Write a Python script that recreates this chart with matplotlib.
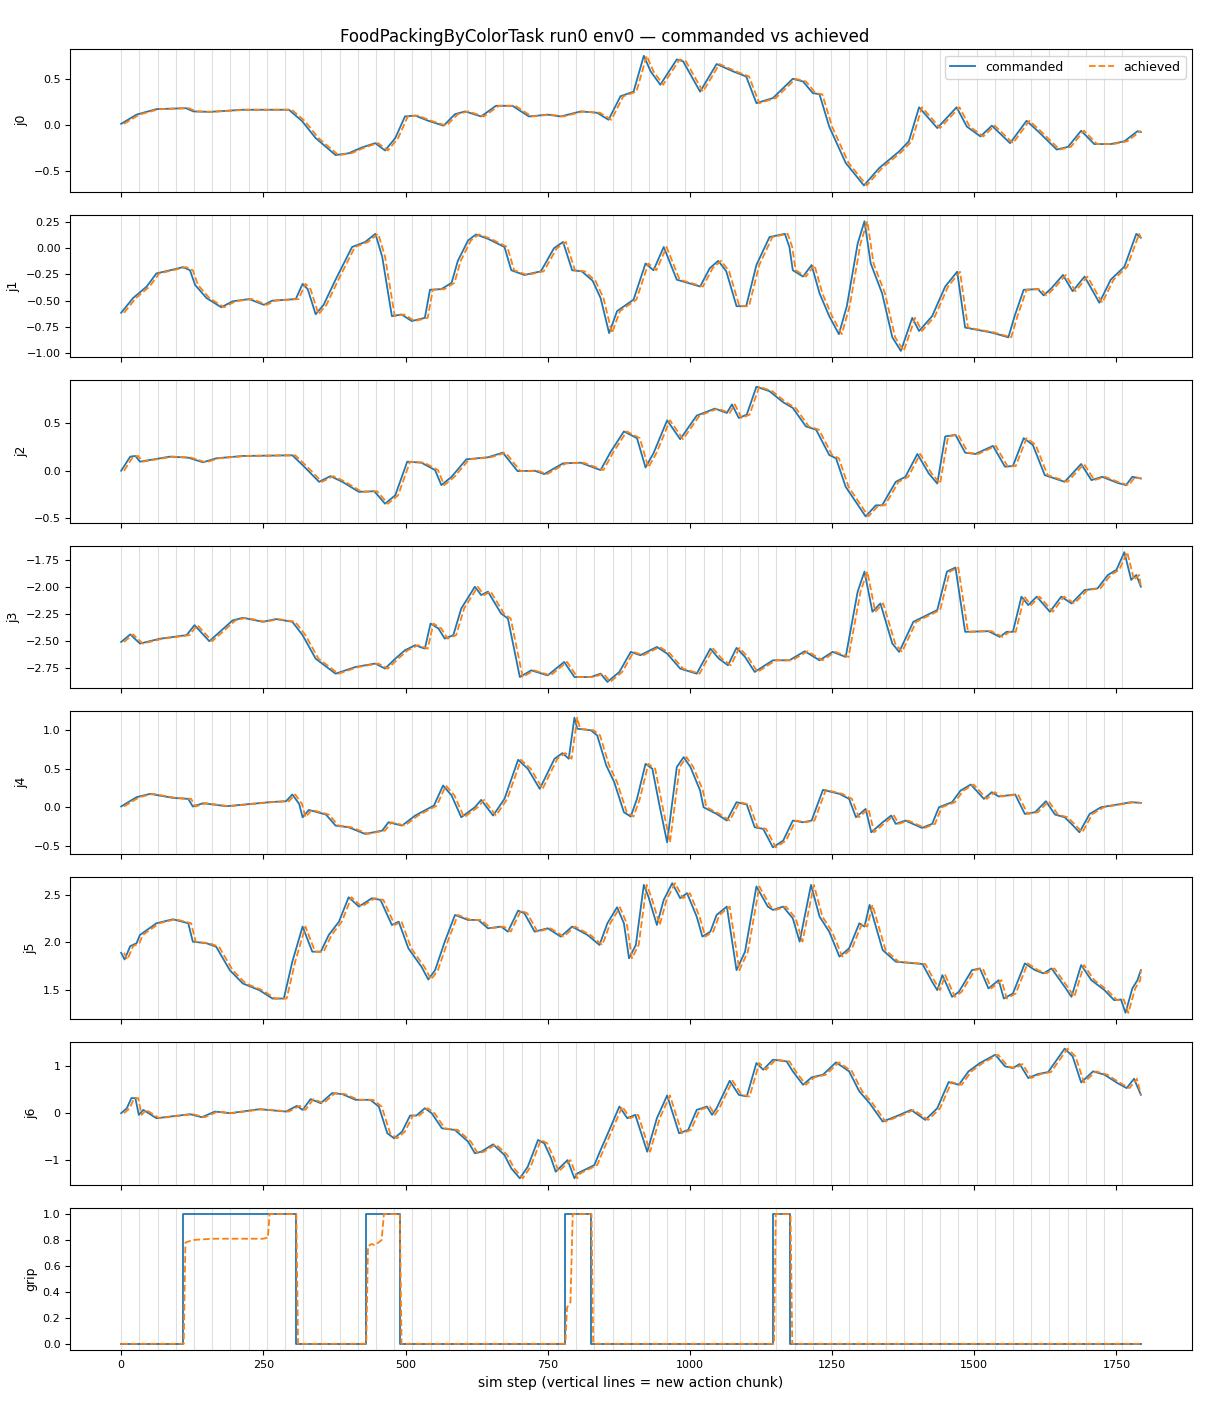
import numpy as np
import matplotlib
matplotlib.use("Agg")
import matplotlib.pyplot as plt
from matplotlib.ticker import MultipleLocator

# Werte: (sim step, Wert) fuer den kommandierten Verlauf
j0 = [(0, 0.01), (27, 0.11), (62, 0.17), (114, 0.18), (127, 0.145), (155, 0.14), (214, 0.163),
      (295, 0.163), (318, 0.04), (342, -0.145), (377, -0.33), (400, -0.31), (424, -0.245),
      (447, -0.2), (464, -0.28), (482, -0.145), (499, 0.09), (517, 0.10), (540, 0.043),
      (567, -0.01), (587, 0.115), (605, 0.145), (633, 0.09), (659, 0.206), (688, 0.206),
      (717, 0.09), (750, 0.11), (773, 0.09), (808, 0.145), (837, 0.13), (857, 0.054),
      (878, 0.31), (901, 0.36), (919, 0.75), (931, 0.58), (948, 0.435), (977, 0.71),
      (988, 0.69), (1018, 0.36), (1047, 0.66), (1076, 0.58), (1099, 0.525), (1117, 0.235),
      (1146, 0.29), (1181, 0.50), (1199, 0.47), (1216, 0.345), (1228, 0.33), (1245, -0.02),
      (1274, -0.415), (1306, -0.66), (1333, -0.47), (1368, -0.29), (1385, -0.18),
      (1403, 0.19), (1435, -0.036), (1469, 0.19), (1487, -0.02), (1511, -0.127),
      (1531, -0.01), (1563, -0.2), (1592, 0.043), (1612, -0.07), (1645, -0.27),
      (1665, -0.24), (1688, -0.065), (1711, -0.21), (1740, -0.21), (1764, -0.18),
      (1787, -0.07), (1793, -0.08)]

j1 = [(0, -0.616), (21, -0.475), (45, -0.365), (62, -0.24), (86, -0.21), (109, -0.18),
      (121, -0.21), (130, -0.35), (150, -0.475), (176, -0.563), (196, -0.506), (225, -0.485),
      (251, -0.54), (266, -0.5), (307, -0.485), (319, -0.34), (328, -0.39), (342, -0.63),
      (356, -0.54), (377, -0.30), (406, 0.012), (429, 0.06), (447, 0.138), (459, -0.08),
      (476, -0.648), (493, -0.632), (511, -0.695), (534, -0.664), (543, -0.396), (563, -0.39),
      (581, -0.33), (592, -0.12), (610, 0.075), (624, 0.132), (645, 0.09), (674, 0.012),
      (686, -0.21), (709, -0.255), (738, -0.22), (761, 0.0), (777, 0.06), (793, -0.21),
      (810, -0.22), (829, -0.31), (843, -0.475), (858, -0.81), (872, -0.60), (901, -0.49),
      (922, -0.145), (936, -0.21), (954, 0.012), (977, -0.30), (1018, -0.365), (1035, -0.19),
      (1050, -0.12), (1064, -0.22), (1082, -0.553), (1099, -0.553), (1117, -0.16),
      (1140, 0.107), (1167, 0.138), (1175, 0.012), (1181, -0.21), (1199, -0.27),
      (1214, -0.16), (1228, -0.43), (1245, -0.648), (1262, -0.82), (1276, -0.553),
      (1295, 0.044), (1307, 0.258), (1318, -0.145), (1338, -0.43), (1356, -0.85),
      (1371, -0.98), (1391, -0.664), (1403, -0.79), (1426, -0.648), (1449, -0.365),
      (1470, -0.224), (1484, -0.757), (1531, -0.805), (1560, -0.85), (1571, -0.648),
      (1587, -0.396), (1612, -0.39), (1622, -0.45), (1636, -0.38), (1656, -0.255),
      (1673, -0.41), (1694, -0.27), (1720, -0.52), (1740, -0.30), (1764, -0.176),
      (1785, 0.138), (1793, 0.10)]

j2 = [(0, 0.0), (16, 0.149), (25, 0.156), (33, 0.096), (86, 0.149), (118, 0.138),
      (144, 0.089), (167, 0.131), (214, 0.156), (301, 0.163), (319, 0.06), (348, -0.117),
      (368, -0.057), (389, -0.117), (418, -0.223), (445, -0.216), (464, -0.348),
      (482, -0.259), (503, 0.096), (528, 0.085), (552, 0.007), (563, -0.152), (581, -0.064),
      (607, 0.121), (645, 0.142), (671, 0.191), (697, -0.004), (727, 0.0), (744, -0.035),
      (777, 0.078), (808, 0.085), (843, 0.007), (861, 0.202), (884, 0.415), (907, 0.344),
      (922, 0.035), (936, 0.184), (960, 0.532), (983, 0.333), (1012, 0.582), (1044, 0.656),
      (1065, 0.610), (1074, 0.70), (1086, 0.557), (1100, 0.592), (1117, 0.887),
      (1140, 0.84), (1164, 0.723), (1181, 0.663), (1204, 0.468), (1222, 0.433),
      (1245, 0.167), (1257, 0.131), (1274, -0.17), (1309, -0.482), (1327, -0.365),
      (1338, -0.365), (1362, -0.117), (1379, -0.064), (1400, 0.177), (1420, -0.028),
      (1435, -0.135), (1449, 0.362), (1467, 0.379), (1484, 0.191), (1502, 0.177),
      (1533, 0.262), (1554, 0.043), (1568, 0.05), (1587, 0.344), (1603, 0.273),
      (1624, -0.046), (1659, -0.117), (1688, 0.071), (1706, -0.099), (1725, -0.064),
      (1752, -0.128), (1767, -0.152), (1778, -0.064), (1793, -0.082)]

j3 = [(0, -2.51), (16, -2.44), (33, -2.525), (68, -2.48), (115, -2.447), (129, -2.354),
      (155, -2.503), (196, -2.31), (214, -2.286), (249, -2.323), (272, -2.298),
      (301, -2.323), (319, -2.447), (342, -2.665), (377, -2.804), (412, -2.742),
      (447, -2.71), (464, -2.757), (482, -2.665), (499, -2.587), (517, -2.54),
      (534, -2.572), (544, -2.339), (558, -2.386), (569, -2.479), (584, -2.447),
      (598, -2.2), (622, -1.998), (633, -2.075), (645, -2.044), (668, -2.246),
      (680, -2.293), (692, -2.602), (701, -2.835), (721, -2.773), (750, -2.82),
      (779, -2.695), (797, -2.835), (826, -2.835), (843, -2.804), (855, -2.88),
      (876, -2.788), (896, -2.602), (913, -2.633), (942, -2.556), (960, -2.618),
      (983, -2.757), (1012, -2.804), (1036, -2.572), (1051, -2.665), (1067, -2.726),
      (1082, -2.565), (1097, -2.649), (1114, -2.788), (1146, -2.68), (1175, -2.68),
      (1202, -2.596), (1228, -2.68), (1251, -2.602), (1274, -2.649), (1295, -2.044),
      (1307, -1.858), (1321, -2.23), (1335, -2.153), (1356, -2.525), (1368, -2.602),
      (1393, -2.323), (1435, -2.214), (1452, -1.858), (1467, -1.82), (1484, -2.416),
      (1525, -2.41), (1545, -2.463), (1557, -2.416), (1568, -2.416), (1583, -2.09),
      (1595, -2.168), (1610, -2.09), (1633, -2.23), (1653, -2.09), (1671, -2.153),
      (1694, -2.029), (1717, -2.013), (1735, -1.889), (1750, -1.842), (1764, -1.678),
      (1776, -1.935), (1785, -1.889), (1793, -1.998)]

j4 = [(0, 0.01), (27, 0.13), (51, 0.173), (91, 0.121), (118, 0.108), (126, 0.009),
      (144, 0.052), (185, 0.013), (260, 0.065), (290, 0.078), (301, 0.165), (313, 0.043),
      (319, -0.13), (330, -0.035), (360, -0.095), (377, -0.238), (400, -0.26),
      (429, -0.346), (459, -0.303), (470, -0.195), (494, -0.238), (517, -0.108),
      (550, 0.022), (566, 0.281), (581, 0.152), (598, -0.13), (622, 0.0), (633, 0.095),
      (654, -0.108), (674, 0.108), (698, 0.615), (715, 0.498), (736, 0.238), (762, 0.628),
      (776, 0.701), (787, 0.628), (797, 1.16), (802, 1.017), (826, 0.996), (837, 0.931),
      (853, 0.541), (867, 0.325), (884, -0.065), (896, -0.121), (907, 0.108), (922, 0.562),
      (934, 0.498), (946, 0.043), (960, -0.455), (977, 0.52), (989, 0.649), (1001, 0.52),
      (1018, 0.216), (1024, 0.0), (1047, -0.087), (1065, -0.173), (1082, 0.065),
      (1100, 0.035), (1114, -0.26), (1129, -0.281), (1146, -0.52), (1164, -0.433),
      (1181, -0.173), (1199, -0.195), (1214, -0.173), (1234, 0.225), (1263, 0.173),
      (1280, 0.108), (1292, -0.13), (1309, -0.022), (1319, -0.325), (1339, -0.195),
      (1354, -0.108), (1362, -0.216), (1379, -0.173), (1408, -0.268), (1426, -0.216),
      (1438, 0.0), (1461, 0.065), (1476, 0.216), (1494, 0.294), (1517, 0.108),
      (1531, 0.195), (1543, 0.139), (1572, 0.165), (1589, -0.087), (1607, -0.065),
      (1626, 0.078), (1642, -0.095), (1659, -0.13), (1671, -0.216), (1685, -0.325),
      (1703, -0.087), (1723, 0.0), (1752, 0.035), (1776, 0.065), (1793, 0.056)]

j5 = [(0, 1.89), (6, 1.82), (16, 1.96), (27, 1.99), (33, 2.077), (62, 2.2), (91, 2.242),
      (118, 2.2), (126, 2.007), (150, 1.99), (167, 1.954), (191, 1.708), (214, 1.568),
      (243, 1.498), (266, 1.41), (286, 1.41), (301, 1.797), (319, 2.165), (336, 1.902),
      (351, 1.902), (365, 2.077), (383, 2.217), (400, 2.473), (418, 2.375), (441, 2.463),
      (456, 2.445), (476, 2.182), (488, 2.217), (505, 1.937), (528, 1.744), (540, 1.61),
      (552, 1.708), (569, 2.007), (587, 2.287), (610, 2.235), (628, 2.235), (645, 2.147),
      (668, 2.165), (680, 2.112), (698, 2.333), (709, 2.305), (727, 2.112), (750, 2.147),
      (773, 2.06), (793, 2.165), (820, 2.077), (841, 1.972), (855, 2.2), (872, 2.368),
      (884, 2.2), (893, 1.832), (905, 1.972), (919, 2.603), (927, 2.48), (942, 2.182),
      (954, 2.445), (969, 2.621), (983, 2.463), (995, 2.516), (1012, 2.27), (1022, 2.06),
      (1036, 2.112), (1047, 2.287), (1065, 2.375), (1082, 1.708), (1097, 1.902),
      (1117, 2.586), (1137, 2.375), (1146, 2.34), (1164, 2.375), (1181, 2.252),
      (1193, 2.007), (1213, 2.603), (1228, 2.27), (1245, 2.112), (1263, 1.85),
      (1280, 1.937), (1298, 2.2), (1307, 2.165), (1316, 2.393), (1339, 1.919),
      (1362, 1.797), (1409, 1.772), (1426, 1.586), (1435, 1.498), (1444, 1.656),
      (1461, 1.428), (1473, 1.481), (1496, 1.708), (1510, 1.726), (1525, 1.516),
      (1543, 1.603), (1552, 1.41), (1568, 1.463), (1589, 1.779), (1607, 1.708),
      (1622, 1.674), (1636, 1.726), (1659, 1.534), (1671, 1.428), (1688, 1.761),
      (1706, 1.603), (1729, 1.498), (1746, 1.393), (1758, 1.4), (1766, 1.26),
      (1778, 1.516), (1787, 1.603), (1793, 1.708)]

j6 = [(0, 0.0), (10, 0.106), (18, 0.32), (25, 0.32), (31, -0.035), (39, 0.07), (62, -0.106),
      (121, -0.021), (142, -0.085), (165, 0.035), (191, 0.0), (243, 0.085), (290, 0.035),
      (309, 0.156), (319, 0.07), (333, 0.298), (351, 0.213), (371, 0.426), (389, 0.404),
      (412, 0.284), (438, 0.284), (453, 0.142), (468, -0.426), (480, -0.532), (494, -0.39),
      (508, -0.05), (519, -0.05), (534, 0.106), (546, 0.0), (564, -0.32), (587, -0.355),
      (610, -0.603), (622, -0.85), (633, -0.816), (654, -0.66), (674, -0.887),
      (686, -1.17), (701, -1.38), (715, -1.134), (733, -0.567), (744, -0.638),
      (756, -0.957), (764, -1.24), (785, -0.993), (797, -1.38), (802, -1.277),
      (832, -1.1), (843, -0.78), (861, -0.284), (876, 0.142), (890, -0.106), (904, -0.035),
      (925, -0.816), (942, -0.106), (960, 0.376), (981, -0.426), (997, -0.355),
      (1012, 0.07), (1030, 0.142), (1039, -0.035), (1047, 0.106), (1070, 0.688),
      (1086, 0.39), (1100, 0.355), (1117, 1.064), (1129, 0.922), (1146, 1.134),
      (1170, 1.099), (1181, 0.887), (1199, 0.603), (1214, 0.759), (1234, 0.816),
      (1257, 1.078), (1280, 0.887), (1298, 0.462), (1316, 0.213), (1339, -0.177),
      (1362, -0.07), (1389, 0.07), (1414, -0.142), (1435, 0.106), (1455, 0.66),
      (1473, 0.603), (1490, 0.887), (1510, 1.064), (1537, 1.24), (1554, 0.993),
      (1568, 0.957), (1580, 1.042), (1595, 0.745), (1612, 0.83), (1630, 0.872),
      (1659, 1.369), (1673, 1.205), (1688, 0.652), (1709, 0.887), (1729, 0.816),
      (1752, 0.638), (1768, 0.532), (1781, 0.73), (1793, 0.39)]

grip_cmd = [(0, 0), (108, 1), (307, 0), (430, 1), (490, 0), (780, 1), (827, 0),
            (1147, 1), (1176, 0), (1793, 0)]
grip_ach = [(0, 0), (110, 0), (113, 0.78), (125, 0.80), (160, 0.81), (250, 0.81),
            (258, 0.82), (261, 1.0), (308, 1.0), (311, 0), (431, 0), (434, 0.75),
            (440, 0.77), (446, 0.76), (452, 0.78), (458, 0.80), (462, 1.0), (490, 1.0),
            (493, 0), (781, 0), (784, 0.28), (790, 0.32), (794, 1.0), (827, 1.0),
            (830, 0), (1148, 0), (1151, 1.0), (1177, 1.0), (1180, 0), (1793, 0)]

joint_names = ["j0", "j1", "j2", "j3", "j4", "j5", "j6"]
joints = [j0, j1, j2, j3, j4, j5, j6]

chunk_len = 32      # neue Aktion alle 32 Schritte
n_steps = 1793
ach_lag = 5         # achieved laeuft etwas hinterher

fig, axes = plt.subplots(8, 1, figsize=(12.1, 14.08), dpi=100, sharex=True)
fig.subplots_adjust(left=0.058, right=0.985, top=0.965, bottom=0.041, hspace=0.16)

chunks = np.arange(0, n_steps - 1, chunk_len)

for ax, name, data in zip(axes[:7], joint_names, joints):
    s = np.array([p[0] for p in data])
    v = np.array([p[1] for p in data])
    for c in chunks:
        ax.axvline(c, color="0.5", alpha=0.25, lw=0.8)
    ax.plot(s, v, color="tab:blue", lw=1.3, label="commanded")
    ax.plot(np.clip(s + ach_lag, 0, s[-1]), v, color="tab:orange", lw=1.3, ls="--",
            label="achieved")
    ax.set_ylabel(name, fontsize=9)
    ax.tick_params(labelsize=8)

# j5 zeigt im Original nur halbe Schritte
axes[5].yaxis.set_major_locator(MultipleLocator(0.5))

ax = axes[7]
for c in chunks:
    ax.axvline(c, color="0.5", alpha=0.25, lw=0.8)
ax.plot([p[0] for p in grip_cmd], [p[1] for p in grip_cmd], color="tab:blue", lw=1.3,
        drawstyle="steps-post", label="commanded")
ax.plot([p[0] for p in grip_ach], [p[1] for p in grip_ach], color="tab:orange", lw=1.3,
        ls="--", label="achieved")
ax.set_ylabel("grip", fontsize=9)
ax.tick_params(labelsize=8)
ax.set_xticks([0, 250, 500, 750, 1000, 1250, 1500, 1750])
ax.set_xlabel("sim step (vertical lines = new action chunk)", fontsize=10)

axes[0].legend(loc="upper right", ncol=2, fontsize=9)
fig.suptitle("FoodPackingByColorTask run0 env0 \u2014 commanded vs achieved", fontsize=12, y=0.980)

fig.savefig("out.png", dpi=100)
